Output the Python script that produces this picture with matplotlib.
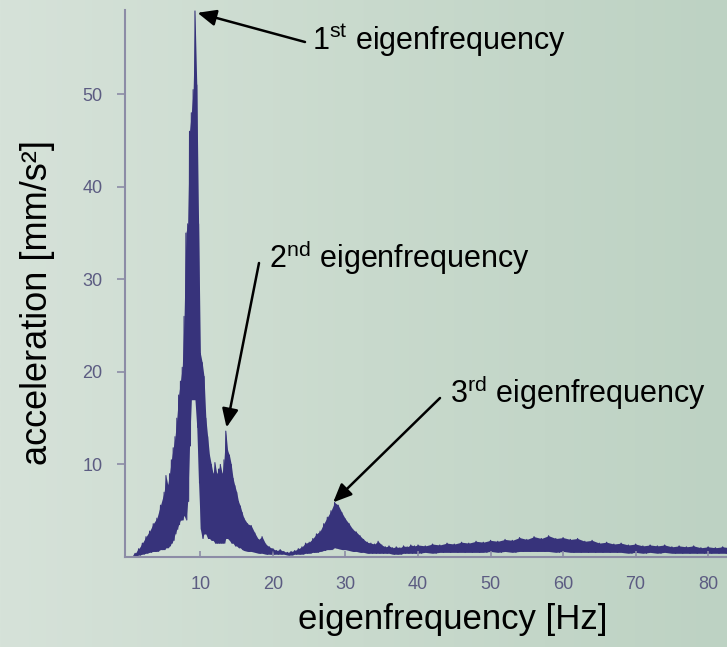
import numpy as np
import matplotlib as mpl
mpl.use("Agg")
from matplotlib import pyplot as plt
from matplotlib.colors import LinearSegmentedColormap

mpl.rcParams.update({
    'font.family': ['Liberation Sans', 'DejaVu Sans'],
    'mathtext.fontset': 'custom',
    'mathtext.rm': 'Liberation Sans',
    'mathtext.it': 'Liberation Sans:italic',
})

# frequency grid of the spectrum (Hz)
freq_hz = np.concatenate([
    np.arange(0.5, 5.0, 0.5),
    np.arange(5.0, 16.0, 0.25),
    np.arange(16.0, 40.0, 0.5),
    np.arange(40.0, 84.0, 1.0),
])

# upper envelope of the acceleration spectrum (mm/s^2)
amp_top = [
    0.0, 0.4, 0.9, 1.5, 2.2, 2.8, 3.6, 4.2, 5.6,
    # 5 .. 15.75 Hz (0.25 Hz step)
    7.0, 8.8, 7.8, 9.0, 10.5, 11.8, 13.0, 15.0, 17.5, 19.0, 20.5, 26.0,
    35.0, 36.0, 46.0, 48.0, 50.5, 59.0, 51.0, 36.0, 22.0, 21.0, 19.5, 15.0,
    13.0, 11.0, 10.0, 9.0, 10.2, 9.0, 9.5, 10.0, 9.0, 10.5, 13.6, 11.5,
    11.0, 10.0, 8.5, 7.7, 7.0, 6.0, 5.5, 4.8,
    # 16 .. 39.5 Hz (0.5 Hz step)
    4.2, 3.6, 3.4, 2.6, 1.9, 2.2, 1.4, 1.1, 0.9, 0.7, 0.8, 0.6,
    0.5, 0.6, 0.7, 0.9, 1.1, 1.5, 1.6, 2.0, 2.5, 2.8, 3.6, 4.3,
    5.0, 5.9, 5.6, 4.8, 4.1, 3.6, 3.0, 2.7, 2.3, 1.9, 1.6, 1.5,
    1.4, 1.7, 1.3, 1.1, 1.2, 1.0, 1.1, 1.0, 1.2, 1.1, 1.3, 1.2,
    # 40 .. 83 Hz (1 Hz step)
    1.3, 1.2, 1.4, 1.3, 1.5, 1.4, 1.6, 1.5, 1.7, 1.6, 1.8, 1.7,
    1.9, 1.8, 2.1, 1.9, 2.2, 2.0, 2.3, 2.0, 2.1, 1.9, 2.0, 1.7,
    1.8, 1.5, 1.6, 1.4, 1.5, 1.3, 1.4, 1.2, 1.3, 1.2, 1.3, 1.1,
    1.2, 1.1, 1.2, 1.0, 1.1, 1.0, 1.1, 1.0,
]

# lower envelope (gaps below the signal)
amp_low = [
    0.0, 0.1, 0.2, 0.3, 0.4, 0.5, 0.6, 0.6, 0.8,
    0.8, 1.0, 1.0, 1.2, 1.5, 1.8, 2.5, 3.0, 3.5, 4.0, 4.0, 4.5,
    4.0, 6.0, 12.0, 17.0, 17.0, 17.0, 14.0, 8.0, 3.0, 2.0, 2.5, 2.5,
    2.0, 2.0, 1.8, 1.8, 1.5, 1.5, 1.5, 1.5, 1.5, 1.5, 2.0, 2.0,
    1.8, 1.5, 1.5, 1.2, 1.2, 1.0, 1.0, 0.8,
    0.7, 0.6, 0.6, 0.5, 0.4, 0.4, 0.3, 0.3, 0.3, 0.3, 0.3, 0.3,
    0.2, 0.2, 0.3, 0.3, 0.3, 0.4, 0.4, 0.5, 0.5, 0.6, 0.7, 0.8,
    0.8, 1.0, 0.9, 0.8, 0.8, 0.7, 0.6, 0.6, 0.5, 0.5, 0.4, 0.4,
    0.4, 0.4, 0.4, 0.4, 0.4, 0.3, 0.3, 0.3, 0.4, 0.4, 0.4, 0.4,
    0.4, 0.5, 0.4, 0.5, 0.5, 0.5, 0.5, 0.5, 0.5, 0.5, 0.6, 0.5,
    0.6, 0.5, 0.6, 0.6, 0.6, 0.6, 0.6, 0.5, 0.6, 0.5, 0.5, 0.5,
    0.5, 0.5, 0.5, 0.5, 0.5, 0.4, 0.5, 0.4, 0.5, 0.4, 0.5, 0.4,
    0.4, 0.4, 0.4, 0.4, 0.4, 0.4, 0.4, 0.4,
]

x_ticks = [10, 20, 30, 40, 50, 60, 70, 80]
y_ticks = [10, 20, 30, 40, 50]

# peaks that get an arrow: (frequency, value, label)
peaks = [
    (9.6, 58.8, r'1$^{\rm st}$ eigenfrequency'),
    (13.6, 14.0, r'2$^{\rm nd}$ eigenfrequency'),
    (28.3, 5.9, r'3$^{\rm rd}$ eigenfrequency'),
]
# arrow tails and text anchors in figure pixels
tails = [(305, 605), (259, 384), (440, 249)]
text_pos = [(312, 597), (269, 379), (450, 244)]

sig_col = '#37337b'
axis_col = '#8c8ca6'
tick_col = '#5c5c82'

fig = plt.figure(figsize=(7.27, 6.47), dpi=100)

# background gradient
bg = fig.add_axes([0, 0, 1, 1], zorder=0)
cmap = LinearSegmentedColormap.from_list('bg', ['#d6e2d9', '#c9dacd', '#bdd2c3'])
bg.imshow(np.linspace(0, 1, 256).reshape(1, -1), cmap=cmap, aspect='auto',
          extent=[0, 1, 0, 1])
bg.axis('off')

ax = fig.add_axes([0.1719, 0.1391, 0.8281, 0.8454], zorder=1)
ax.patch.set_alpha(0)

f = np.asarray(freq_hz)
top = np.asarray(amp_top)
low = np.asarray(amp_low)
ax.fill_between(f, low, top, color=sig_col, lw=0)

# jagged trace: alternate between top and low values
mid = np.append((f[:-1] + f[1:]) / 2, f[-1] + 0.5)
zx = np.ravel(np.column_stack([f, mid]))
zy = np.ravel(np.column_stack([top, low]))
ax.plot(zx, zy, color=sig_col, lw=0.8)

ax.set_xlim(-0.4, 82.6)
ax.set_ylim(0, 59.1)
ax.set_xticks(x_ticks)
ax.set_yticks(y_ticks)

for s in ['top', 'right']:
    ax.spines[s].set_visible(False)
for s in ['left', 'bottom']:
    ax.spines[s].set_color(axis_col)
    ax.spines[s].set_linewidth(1.5)

ax.tick_params(axis='y', direction='out', length=6, width=1.2, color=axis_col,
               labelcolor=tick_col, labelsize=13, pad=10)
ax.tick_params(axis='x', direction='in', length=4, width=1.2, color=axis_col,
               labelcolor=tick_col, labelsize=13, pad=14)

fig.text(0.051, 0.532, 'acceleration [mm/s²]', rotation=90, fontsize=26,
         ha='center', va='center')
fig.text(0.623, 0.042, 'eigenfrequency [Hz]', fontsize=25,
         ha='center', va='center')

for (fx, fy, lab), (tx, ty), (lx, ly) in zip(peaks, tails, text_pos):
    ax.annotate('', xy=(fx, fy), xycoords='data',
                xytext=(tx, ty), textcoords='figure pixels',
                arrowprops=dict(arrowstyle='-|>,head_length=0.8,head_width=0.35',
                                color='black', lw=1.8, mutation_scale=14,
                                shrinkA=0, shrinkB=0),
                annotation_clip=False)
    fig.text(lx / 727, ly / 647, lab, fontsize=22, ha='left', va='baseline')

plt.savefig('out.png', dpi=100)
